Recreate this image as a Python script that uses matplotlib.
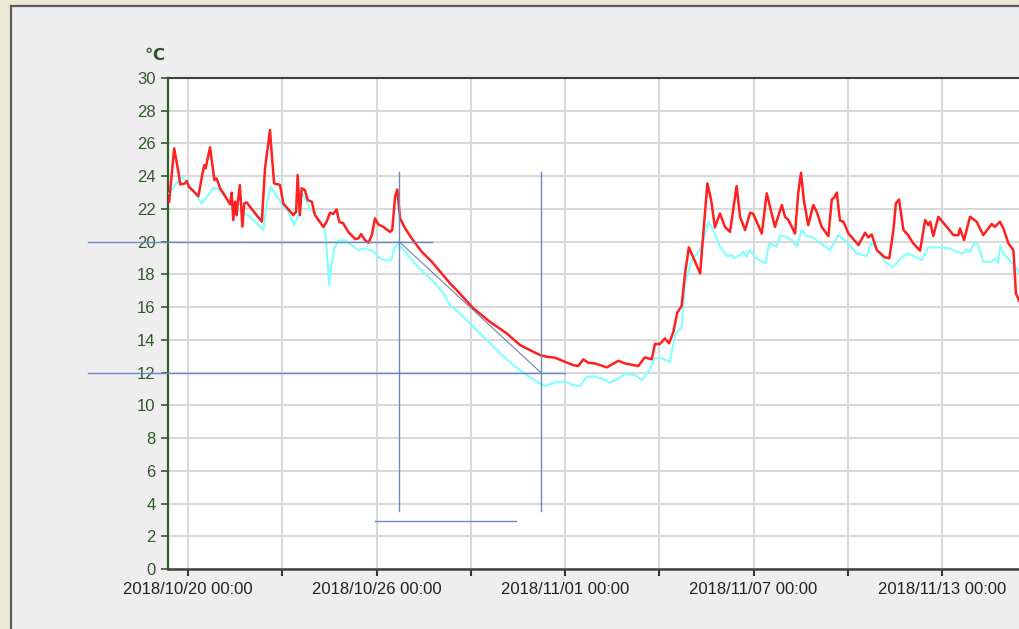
import numpy as np
import matplotlib
matplotlib.use("Agg")
import matplotlib.pyplot as plt
import matplotlib.dates as mdates
from matplotlib.patches import Rectangle
from matplotlib.lines import Line2D
from datetime import datetime, timedelta

# time axis: days since 2018/10/20 00:00
base = datetime(2018, 10, 20)

red_day = [-0.60, -0.44, -0.29, -0.25, -0.10, -0.04, 0.03, 0.33, 0.47, 0.52, 0.56, 0.70, 0.84, 0.91,
           1.02, 1.16, 1.34, 1.39, 1.44, 1.50, 1.55, 1.58, 1.65, 1.73, 1.79, 1.87, 1.97, 2.35, 2.45,
           2.61, 2.66, 2.74, 2.87, 2.93, 3.03, 3.35, 3.44, 3.49, 3.56, 3.62, 3.72, 3.81, 3.94, 4.04,
           4.31, 4.41, 4.52, 4.62, 4.73, 4.81, 4.94, 5.10, 5.32, 5.42, 5.51, 5.63, 5.74, 5.85, 5.95,
           6.06, 6.22, 6.32, 6.43, 6.50, 6.59, 6.66, 6.75, 6.91, 7.12, 7.44, 7.76, 8.07, 8.34, 8.55,
           9.08, 9.61, 10.14, 10.57, 10.88, 11.20, 11.42, 11.68, 11.94, 12.26, 12.42, 12.58, 12.74,
           12.95, 13.33, 13.49, 13.70, 13.91, 14.33, 14.54, 14.76, 14.86, 15.02, 15.18, 15.31, 15.45,
           15.57, 15.71, 15.82, 15.94, 16.08, 16.30, 16.40, 16.53, 16.65, 16.77, 16.93, 17.09, 17.25,
           17.46, 17.57, 17.73, 17.89, 17.99, 18.26, 18.42, 18.52, 18.68, 18.90, 19.00, 19.11, 19.32,
           19.42, 19.51, 19.60, 19.74, 19.90, 20.01, 20.17, 20.38, 20.49, 20.57, 20.65, 20.75, 20.86,
           21.02, 21.34, 21.55, 21.65, 21.76, 21.92, 22.18, 22.32, 22.45, 22.53, 22.63, 22.77, 22.92,
           23.08, 23.30, 23.46, 23.56, 23.62, 23.72, 23.88, 24.15, 24.36, 24.52, 24.57, 24.70, 24.89,
           25.10, 25.31, 25.58, 25.68, 25.84, 25.95, 26.11, 26.27, 26.35, 26.45]
red_val = [22.44, 25.70, 24.07, 23.50, 23.56, 23.70, 23.35, 22.78, 24.27, 24.68, 24.48, 25.76, 23.76, 23.86,
           23.26, 22.85, 22.28, 23.00, 21.32, 22.44, 21.62, 22.34, 23.46, 20.92, 22.34, 22.40, 22.14, 21.22, 24.48,
           26.82, 25.49, 23.56, 23.50, 23.46, 22.34, 21.62, 21.83, 24.07, 21.62, 23.26, 23.15, 22.54, 22.44, 21.62,
           20.90, 21.22, 21.77, 21.69, 21.97, 21.22, 21.12, 20.60, 20.16, 20.20, 20.46, 20.10, 19.93, 20.40, 21.42,
           21.05, 20.90, 20.75, 20.60, 20.71, 22.74, 23.19, 21.42, 20.81, 20.20, 19.38, 18.77, 18.06, 17.45, 17.04,
           15.93, 15.10, 14.40, 13.68, 13.38, 13.07, 12.97, 12.91, 12.70, 12.46, 12.40, 12.81, 12.60,
           12.56, 12.32, 12.50, 12.72, 12.56, 12.40, 12.93, 12.81, 13.75, 13.75, 14.09, 13.79, 14.50,
           15.66, 16.07, 18.06, 19.65, 19.04, 18.06, 20.50, 23.56, 22.54, 20.87, 21.72, 20.90, 20.60,
           23.40, 21.52, 20.71, 21.77, 21.70, 20.50, 22.95, 22.17, 20.90, 22.24, 21.52, 21.32, 20.50,
           22.95, 24.21, 22.54, 21.01, 22.24, 21.83, 20.90, 20.34, 22.58, 22.70, 23.00, 21.28, 21.22,
           20.50, 19.79, 20.55, 20.26, 20.44, 19.49, 19.04, 18.98, 20.71, 22.34, 22.58, 20.71, 20.40,
           19.90, 19.45, 21.32, 21.01, 21.22, 20.34, 21.52, 20.90, 20.40, 20.40, 20.81, 20.10, 21.52,
           21.22, 20.40, 21.08, 20.90, 21.22, 20.81, 19.90, 19.49, 16.84, 16.40]

cyan_day = [-0.60, -0.41, -0.20, -0.10, 0.12, 0.44, 0.60, 0.81, 0.96, 1.18, 1.39, 1.71, 1.92, 2.19, 2.40,
            2.50, 2.64, 2.77, 2.98, 3.19, 3.38, 3.51, 3.62, 3.72, 3.88, 4.04, 4.36, 4.41, 4.49, 4.57,
            4.66, 4.78, 5.00, 5.21, 5.42, 5.58, 5.79, 5.95, 6.11, 6.32, 6.48, 6.57, 6.69, 6.91, 7.22,
            7.54, 7.86, 8.13, 8.34, 8.76, 9.08, 9.51, 9.93, 10.35, 10.78, 11.10, 11.36, 11.73, 12.00,
            12.26, 12.48, 12.69, 12.95, 13.17, 13.43, 13.70, 13.91, 14.23, 14.44, 14.65, 14.86, 15.08,
            15.34, 15.50, 15.71, 15.82, 16.03, 16.30, 16.43, 16.56, 16.72, 16.93, 17.14, 17.31, 17.36,
            17.57, 17.68, 17.78, 17.87, 18.10, 18.37, 18.50, 18.63, 18.74, 18.84, 19.06, 19.22, 19.38,
            19.53, 19.69, 19.90, 20.06, 20.43, 20.70, 20.96, 21.28, 21.60, 21.76, 21.92, 22.24, 22.45,
            22.71, 22.92, 23.14, 23.35, 23.56, 23.93, 24.25, 24.46, 24.67, 24.78, 24.89, 25.05, 25.15,
            25.31, 25.58, 25.68, 25.79, 25.84, 25.95, 26.37, 26.45]
cyan_val = [22.95, 23.46, 23.97, 23.76, 23.26, 22.34, 22.74, 23.30, 23.21, 22.74, 22.24, 21.83, 21.58, 21.12, 20.71,
            22.34, 23.36, 22.95, 22.34, 21.83, 21.01, 21.62, 22.95, 22.69, 22.03, 21.72, 20.71, 19.69, 17.35, 18.67,
            19.59, 20.06, 20.10, 19.79, 19.49, 19.59, 19.49, 19.33, 18.98, 18.84, 18.92, 19.65, 19.85, 19.38, 18.67,
            18.06, 17.45, 16.84, 16.13, 15.41, 14.80, 13.99, 13.18, 12.46, 11.85, 11.44, 11.18, 11.44, 11.44,
            11.24, 11.18, 11.75, 11.75, 11.65, 11.38, 11.65, 11.91, 11.85, 11.55, 12.05, 12.87, 12.87,
            12.66, 14.29, 14.80, 17.45, 18.88, 19.49, 20.30, 21.22, 20.71, 19.69, 19.12, 19.18, 18.98,
            19.18, 19.38, 19.08, 19.49, 18.98, 18.67, 19.90, 19.79, 19.69, 20.40, 20.26, 20.10, 19.69,
            20.71, 20.34, 20.26, 20.00, 19.49, 20.40, 20.00, 19.28, 19.12, 20.00, 19.49, 18.67, 18.47,
            19.04, 19.28, 19.08, 18.88, 19.65, 19.65, 19.59, 19.38, 19.28, 19.53, 19.38, 20.00, 19.79,
            18.77, 18.77, 18.98, 18.71, 19.73, 19.28, 18.37, 18.10]

# measurement guide lines (days, degC)
h20_days = [-3.18, 7.77]
h12_days = [-3.18, 12.00]
v_days = [6.72, 11.23]
v_range = [3.54, 24.25]
h_low_days = [5.95, 10.44]
h_low_val = 2.93
diag_days = [6.72, 11.23]
diag_val = [20, 12]

xlim_days = [-0.637, 26.48]
yticks = list(range(0, 31, 2))
major_ticks = [0, 6, 12, 18, 24]


def to_dt(days):
    return [base + timedelta(days=d) for d in days]


fig = plt.figure(figsize=(10.2, 6.29), dpi=100)
fig.patch.set_facecolor('#EEEEEE')

# window frame
fig.add_artist(Rectangle((0, 0), 10 / 1020, 1, transform=fig.transFigure, color='#ECE9D8', lw=0))
fig.add_artist(Rectangle((0, 1 - 5 / 629), 1, 5 / 629, transform=fig.transFigure, color='#ECE9D8', lw=0))
fig.add_artist(Line2D([11 / 1020, 11 / 1020], [0, 1 - 6 / 629], transform=fig.transFigure, color='#5A5A5A', lw=1.6))
fig.add_artist(Line2D([11 / 1020, 1], [1 - 6 / 629, 1 - 6 / 629], transform=fig.transFigure, color='#5A5A5A', lw=1.6))

ax = fig.add_axes([168 / 1020, 60 / 629, 1 - 168 / 1020, (569 - 78) / 629])
ax.set_facecolor('white')

ax.plot(to_dt(cyan_day), cyan_val, color='#80FFFF', lw=1.5, zorder=3)
ax.plot(to_dt(red_day), red_val, color='#FF2020', lw=1.8, zorder=4)

guide = '#6A8AC4'
ax.plot(to_dt(h20_days), [20, 20], color=guide, lw=1.0, clip_on=False, zorder=5)
ax.plot(to_dt(h12_days), [12, 12], color=guide, lw=1.0, clip_on=False, zorder=5)
for d in v_days:
    ax.plot(to_dt([d, d]), v_range, color=guide, lw=1.0, zorder=5)
ax.plot(to_dt(h_low_days), [h_low_val, h_low_val], color=guide, lw=1.0, zorder=5)
ax.plot(to_dt(diag_days), diag_val, color='#7082B4', lw=0.8, zorder=5)

ax.set_xlim(to_dt(xlim_days))
ax.set_ylim(0, 30)

ax.set_yticks(yticks)
ax.set_xticks(to_dt(major_ticks))
ax.set_xticks(to_dt([3, 9, 15, 21]), minor=True)
ax.xaxis.set_major_formatter(mdates.DateFormatter('%Y/%m/%d %H:%M'))

ax.grid(True, which='both', color='#D9D9D9', lw=1.5, zorder=0)
ax.set_axisbelow(True)

ax.tick_params(axis='y', direction='out', length=5, width=1.2, color='#2E5E2A', pad=4,
               labelsize=12, labelcolor='#2E5A28')
ax.tick_params(axis='x', which='both', direction='out', length=5, width=1.5, color='#333333', pad=4,
               labelsize=12, labelcolor='#222222')
for lab in ax.get_yticklabels() + ax.get_xticklabels():
    lab.set_family(['Liberation Sans', 'DejaVu Sans'])

ax.spines['left'].set_color('#2E5E2A')
ax.spines['left'].set_linewidth(1.6)
ax.spines['bottom'].set_color('#404040')
ax.spines['bottom'].set_linewidth(1.8)
ax.spines['top'].set_color('#404040')
ax.spines['top'].set_linewidth(1.5)
ax.spines['right'].set_visible(False)

fig.text(155 / 1020, 1 - 55 / 629, '℃', ha='center', va='center', fontsize=12, fontweight='bold',
         color='#2E5A28', family=['DejaVu Sans'])

fig.savefig('out.png', dpi=100, facecolor=fig.get_facecolor())
